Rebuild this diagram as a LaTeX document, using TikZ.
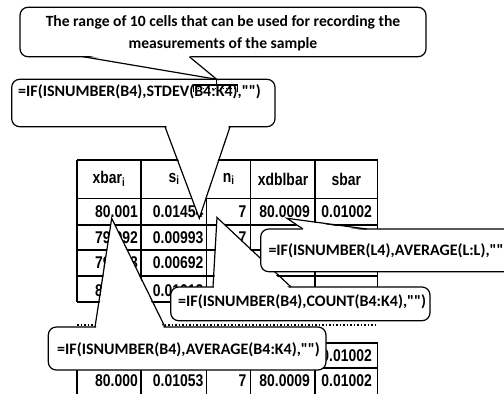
\documentclass[tikz,border=0pt]{standalone}
\usepackage{fontspec}
\newfontfamily\callfont{Carlito}
\newfontfamily\cellfont[FakeStretch=0.82]{Liberation Sans}
\begin{document}
\begin{tikzpicture}[x=1pt,y=-1pt,
  grid/.style={line width=1.5pt},
  callbox/.style={draw,fill=white,line width=1.2pt,rounded corners=8pt},
  callline/.style={line width=1.2pt},
  calltxt/.style={font=\callfont\fontsize{16}{19}\selectfont\bfseries,inner sep=0pt,anchor=west},
  headtxt/.style={font=\cellfont\fontsize{17}{20}\selectfont\bfseries,inner sep=0pt},
  celltxt/.style={font=\cellfont\fontsize{17}{20}\selectfont\bfseries,inner sep=0pt,anchor=east}]
\useasboundingbox (0,0) rectangle (504,394);
\foreach \x in {77,141,206.7,250.7,315,377.7} {
  \draw[grid] (\x,160) -- (\x,302);
  \draw[grid] (\x,343) -- (\x,398);
}
\foreach \y in {160,198.3,225,250,276,302,343,368}
  \draw[grid] (77,\y) -- (377.7,\y);
\draw[line width=1.5pt,dotted] (77,325) -- (375,325);
\node[headtxt] (hxbar) at (109,179) {xbar\textsubscript{i}};
\node[headtxt] (hs) at (174,179) {s\textsubscript{i}};
\node[headtxt] (hn) at (228.7,179) {n\textsubscript{i}};
\node[headtxt] (hxdb) at (283,179) {xdblbar};
\node[headtxt] (hsb) at (346.3,179) {sbar};
\foreach \r/\y/\a/\b/\c/\d/\e in {1/211.7/80.001/0.01454/7/80.0009/0.01002,
    2/237.5/79.992/0.00993/7//,3/263/79.993/0.00692///,4/291/80.007/0.01012///,
    5/355.5/////0.01002,6/381/80.000/0.01053/7/80.0009/0.01002} {
  \node[celltxt] (xb\r) at (138,\y) {\a};
  \node[celltxt] (s\r) at (203.5,\y) {\b};
  \node[celltxt] (n\r) at (246.5,\y) {\c};
  \node[celltxt] (xdb\r) at (310,\y) {\d};
  \node[celltxt] (sb\r) at (372,\y) {\e};
}
\coordinate (stdevtip) at (199.3,218.3);
\filldraw[callbox] (11.7,79.3) rectangle (275,126.7);
\fill[white] (166,125) -- (stdevtip) -- (229,125) -- cycle;
\draw[callline] (165,126.7) -- (stdevtip) -- (230,126.7);
\node[calltxt] (stdevtxt) at (18,91.5) {=IF(ISNUMBER(B4),STDEV(B4:K4),"")};
\coordinate (rangetip) at (216.7,79.3);
\filldraw[callbox] (20,7.3) rectangle (426,56.7);
\fill[white] (84,55) -- (rangetip) -- (188.5,55) -- cycle;
\draw[callline] (83,56.7) -- (rangetip) -- (189.3,56.7);
\node[calltxt,anchor=center,align=center,font=\callfont\fontsize{15.6}{21.3}\selectfont\bfseries] (rangetxt)
  at (223,33.3) {The range of 10 cells that can be used for recording the\\measurements of the sample};
\draw[callline] (rangetip) -- (216.7,85) (193.3,91.5) -- (193.3,85) -- (237.3,85) -- (237.3,91.5);
\draw[dotted,line width=0.8pt] (195,88) -- (236,88);
\coordinate (avgtip) at (111.7,218.3);
\filldraw[callbox] (48.3,327) rectangle (326,370);
\fill[white] (96,328.5) -- (avgtip) -- (164,328.5) -- cycle;
\draw[callline] (95,327) -- (avgtip) -- (165,327);
\node[calltxt] (avgtxt) at (57,349.5) {=IF(ISNUMBER(B4),AVERAGE(B4:K4),"")};
\coordinate (counttip) at (217,217.5);
\filldraw[callbox] (170.7,287) rectangle (430,320.7);
\fill[white] (214,288.5) -- (counttip) -- (289.5,288.5) -- cycle;
\draw[callline] (213,287) -- (counttip) -- (291,287);
\node[calltxt] (counttxt) at (178,302) {=IF(ISNUMBER(B4),COUNT(B4:K4),"")};
\coordinate (grandtip) at (287,218.3);
\filldraw[callbox] (260.7,229) rectangle (520,271.7);
\fill[white] (304,230.5) -- (grandtip) -- (365,230.5) -- cycle;
\draw[callline] (303,229) -- (grandtip) -- (366.7,229);
\node[calltxt] (grandtxt) at (268.3,251) {=IF(ISNUMBER(L4),AVERAGE(L:L),"")};
\end{tikzpicture}
\end{document}
